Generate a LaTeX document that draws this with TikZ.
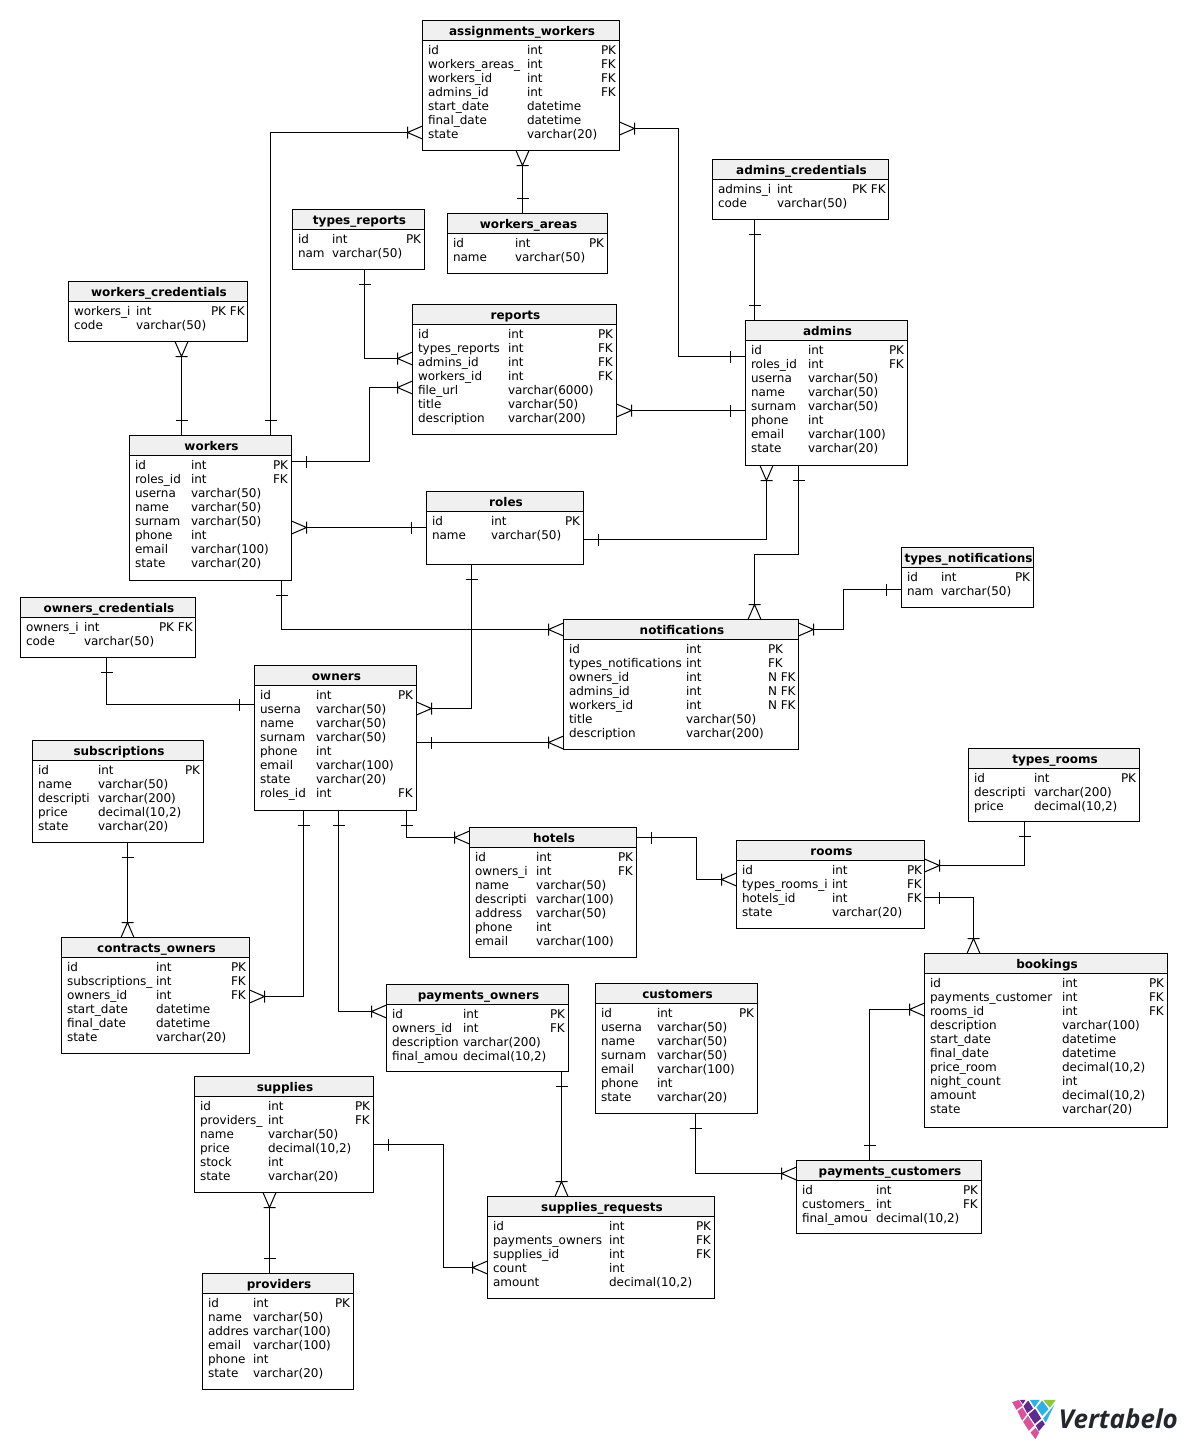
\documentclass[tikz,border=0pt]{standalone}
\usepackage{fontspec}
\setmainfont{DejaVu Sans}
\newfontfamily\logofont{Open Sans}
\catcode`\_=12
\usetikzlibrary{arrows.meta}
\definecolor{headgray}{HTML}{F0F0F0}
\definecolor{logopink}{HTML}{D9539B}
\definecolor{logopurple}{HTML}{5F2B8F}
\definecolor{logoblue}{HTML}{2DB0E6}
\definecolor{logogreen}{HTML}{8DC63F}
\definecolor{logotext}{HTML}{23262B}
\tikzstyle{erbody}=[draw=black,line width=1pt,inner sep=0pt,outer sep=0pt,anchor=north west]
\tikzstyle{erhead}=[erbody,fill=headgray,minimum height=20pt,font=\fontsize{12}{14}\selectfont\bfseries,text height=11pt,text depth=2pt]
\tikzstyle{ercell}=[inner sep=0pt,outer sep=0pt,anchor=base west,font=\fontsize{12}{14}\selectfont]
\tikzstyle{rel}=[draw=black,line width=1pt]
\pgfdeclarearrow{
  name=crow,
  parameters={\the\pgflinewidth},
  setup code={\pgfarrowssettipend{0pt}\pgfarrowssetlineend{-15pt}\pgfarrowssetbackend{-15pt}\pgfarrowssetvisualbackend{-15pt}},
  drawing code={
    \pgfsetdash{}{0pt}
    \pgfpathmoveto{\pgfqpoint{0pt}{6.5pt}}
    \pgfpathlineto{\pgfqpoint{-15pt}{0pt}}
    \pgfpathlineto{\pgfqpoint{0pt}{-6.5pt}}
    \pgfpathmoveto{\pgfqpoint{-15pt}{6pt}}
    \pgfpathlineto{\pgfqpoint{-15pt}{-6pt}}
    \pgfusepathqstroke
  }
}
\pgfdeclarearrow{
  name=one,
  parameters={\the\pgflinewidth},
  setup code={\pgfarrowssettipend{0pt}\pgfarrowssetlineend{0pt}\pgfarrowssetbackend{-15pt}\pgfarrowssetvisualbackend{0pt}},
  drawing code={
    \pgfsetdash{}{0pt}
    \pgfpathmoveto{\pgfqpoint{-15pt}{6pt}}
    \pgfpathlineto{\pgfqpoint{-15pt}{-6pt}}
    \pgfusepathqstroke
  }
}
\newcount\rowno
\newcommand{\rw}[3][]{%
  \pgfmathsetmacro\rowy{\ertop+34+14*\rowno}%
  \node[ercell] (\ername-\the\rowno-name) at (\erleft+5.5,\rowy) {#2};
  \node[ercell] (\ername-\the\rowno-type) at (\ertype+0.5,\rowy) {#3};
  \def\rowkey{#1}%
  \ifx\rowkey\empty\else
    \node[ercell] (\ername-\the\rowno-key) at (\erkey+0.5,\rowy) {#1};
  \fi
  \global\advance\rowno by 1\relax
}
\newcommand{\ertable}[8]{%
  \def\ername{#1}\def\erleft{#2}\def\ertop{#3}\def\ertype{#6}\def\erkey{#7}%
  \global\rowno=0\relax
  \node[erbody,minimum width={(#4-#2+1)*1pt},minimum height={(#5-#3+1)*1pt}] (#1) at (#2,#3) {};
  \node[erhead,minimum width={(#4-#2+1)*1pt}] (#1-head) at (#2,#3) {\hspace{2pt}#1};
  #8
}
\begin{document}
\begin{tikzpicture}[x=1pt,y=-1pt]
\useasboundingbox (0.5,0.5) rectangle (1187.5,1449.5);

\ertable{assignments_workers}{423}{21}{619}{150}{527}{601}{
  \rw[PK]{id}{int}
  \rw[FK]{workers_areas_}{int}
  \rw[FK]{workers_id}{int}
  \rw[FK]{admins_id}{int}
  \rw{start_date}{datetime}
  \rw{final_date}{datetime}
  \rw{state}{varchar(20)}
}
\ertable{admins_credentials}{713}{160}{888}{219}{777}{852}{
  \rw[PK FK]{admins_i}{int}
  \rw{code}{varchar(50)}
}
\ertable{types_reports}{293}{210}{424}{269}{332}{406}{
  \rw[PK]{id}{int}
  \rw{nam}{varchar(50)}
}
\ertable{workers_areas}{448}{214}{607}{273}{515}{589}{
  \rw[PK]{id}{int}
  \rw{name}{varchar(50)}
}
\ertable{workers_credentials}{69}{282}{247}{341}{136}{211}{
  \rw[PK FK]{workers_i}{int}
  \rw{code}{varchar(50)}
}
\ertable{reports}{413}{305}{616}{434}{508}{598}{
  \rw[PK]{id}{int}
  \rw[FK]{types_reports}{int}
  \rw[FK]{admins_id}{int}
  \rw[FK]{workers_id}{int}
  \rw{file_url}{varchar(6000)}
  \rw{title}{varchar(50)}
  \rw{description}{varchar(200)}
}
\ertable{admins}{746}{321}{907}{465}{808}{889}{
  \rw[PK]{id}{int}
  \rw[FK]{roles_id}{int}
  \rw{userna}{varchar(50)}
  \rw{name}{varchar(50)}
  \rw{surnam}{varchar(50)}
  \rw{phone}{int}
  \rw{email}{varchar(100)}
  \rw{state}{varchar(20)}
}
\ertable{workers}{130}{436}{291}{580}{191}{273}{
  \rw[PK]{id}{int}
  \rw[FK]{roles_id}{int}
  \rw{userna}{varchar(50)}
  \rw{name}{varchar(50)}
  \rw{surnam}{varchar(50)}
  \rw{phone}{int}
  \rw{email}{varchar(100)}
  \rw{state}{varchar(20)}
}
\ertable{roles}{427}{492}{583}{564}{491}{565}{
  \rw[PK]{id}{int}
  \rw{name}{varchar(50)}
}
\ertable{types_notifications}{902}{548}{1033}{607}{941}{1015}{
  \rw[PK]{id}{int}
  \rw{nam}{varchar(50)}
}
\ertable{owners_credentials}{21}{598}{195}{657}{84}{159}{
  \rw[PK FK]{owners_i}{int}
  \rw{code}{varchar(50)}
}
\ertable{notifications}{564}{620}{798}{749}{686}{768}{
  \rw[PK]{id}{int}
  \rw[FK]{types_notifications}{int}
  \rw[N FK]{owners_id}{int}
  \rw[N FK]{admins_id}{int}
  \rw[N FK]{workers_id}{int}
  \rw{title}{varchar(50)}
  \rw{description}{varchar(200)}
}
\ertable{owners}{255}{666}{416}{810}{316}{398}{
  \rw[PK]{id}{int}
  \rw{userna}{varchar(50)}
  \rw{name}{varchar(50)}
  \rw{surnam}{varchar(50)}
  \rw{phone}{int}
  \rw{email}{varchar(100)}
  \rw{state}{varchar(20)}
  \rw[FK]{roles_id}{int}
}
\ertable{subscriptions}{33}{741}{203}{842}{98}{185}{
  \rw[PK]{id}{int}
  \rw{name}{varchar(50)}
  \rw{descripti}{varchar(200)}
  \rw{price}{decimal(10,2)}
  \rw{state}{varchar(20)}
}
\ertable{types_rooms}{969}{749}{1139}{821}{1034}{1121}{
  \rw[PK]{id}{int}
  \rw{descripti}{varchar(200)}
  \rw{price}{decimal(10,2)}
}
\ertable{hotels}{470}{828}{636}{957}{536}{618}{
  \rw[PK]{id}{int}
  \rw[FK]{owners_i}{int}
  \rw{name}{varchar(50)}
  \rw{descripti}{varchar(100)}
  \rw{address}{varchar(50)}
  \rw{phone}{int}
  \rw{email}{varchar(100)}
}
\ertable{rooms}{737}{841}{924}{928}{832}{907}{
  \rw[PK]{id}{int}
  \rw[FK]{types_rooms_i}{int}
  \rw[FK]{hotels_id}{int}
  \rw{state}{varchar(20)}
}
\ertable{contracts_owners}{62}{938}{249}{1053}{156}{231}{
  \rw[PK]{id}{int}
  \rw[FK]{subscriptions_}{int}
  \rw[FK]{owners_id}{int}
  \rw{start_date}{datetime}
  \rw{final_date}{datetime}
  \rw{state}{varchar(20)}
}
\ertable{bookings}{925}{954}{1167}{1127}{1062}{1149}{
  \rw[PK]{id}{int}
  \rw[FK]{payments_customer}{int}
  \rw[FK]{rooms_id}{int}
  \rw{description}{varchar(100)}
  \rw{start_date}{datetime}
  \rw{final_date}{datetime}
  \rw{price_room}{decimal(10,2)}
  \rw{night_count}{int}
  \rw{amount}{decimal(10,2)}
  \rw{state}{varchar(20)}
}
\ertable{payments_owners}{387}{985}{568}{1071}{463}{550}{
  \rw[PK]{id}{int}
  \rw[FK]{owners_id}{int}
  \rw{description}{varchar(200)}
  \rw{final_amou}{decimal(10,2)}
}
\ertable{customers}{596}{984}{757}{1113}{657}{739}{
  \rw[PK]{id}{int}
  \rw{userna}{varchar(50)}
  \rw{name}{varchar(50)}
  \rw{surnam}{varchar(50)}
  \rw{email}{varchar(100)}
  \rw{phone}{int}
  \rw{state}{varchar(20)}
}
\ertable{supplies}{195}{1077}{373}{1192}{268}{355}{
  \rw[PK]{id}{int}
  \rw[FK]{providers_}{int}
  \rw{name}{varchar(50)}
  \rw{price}{decimal(10,2)}
  \rw{stock}{int}
  \rw{state}{varchar(20)}
}
\ertable{payments_customers}{797}{1161}{981}{1233}{876}{963}{
  \rw[PK]{id}{int}
  \rw[FK]{customers_}{int}
  \rw{final_amou}{decimal(10,2)}
}
\ertable{supplies_requests}{488}{1197}{714}{1298}{609}{696}{
  \rw[PK]{id}{int}
  \rw[FK]{payments_owners}{int}
  \rw[FK]{supplies_id}{int}
  \rw{count}{int}
  \rw{amount}{decimal(10,2)}
}
\ertable{providers}{203}{1274}{353}{1389}{253}{335}{
  \rw[PK]{id}{int}
  \rw{name}{varchar(50)}
  \rw{addres}{varchar(100)}
  \rw{email}{varchar(100)}
  \rw{phone}{int}
  \rw{state}{varchar(20)}
}

\begin{scope}[shift={(1,1)}]
\draw[rel,one-crow] (270,0 |- workers.north) |- (assignments_workers.west |- 0,132);
\draw[rel,crow-one] (assignments_workers.east |- 0,128) -| (678,356) -- (admins.west |- 0,356);
\draw[rel,crow-one] (522,0 |- assignments_workers.south) -- (522,0 |- workers_areas.north);
\draw[rel,one-one] (754,0 |- admins_credentials.south) -- (754,0 |- admins.north);
\draw[rel,one-crow] (364,0 |- types_reports.south) |- (reports.west |- 0,358);
\draw[rel,crow-one] (181,0 |- workers_credentials.south) -- (181,0 |- workers.north);
\draw[rel,one-crow] (workers.east |- 0,461) -| (369,387) -- (reports.west |- 0,387);
\draw[rel,crow-one] (reports.east |- 0,410) -- (admins.west |- 0,410);
\draw[rel,crow-one] (workers.east |- 0,527) -- (roles.west |- 0,527);
\draw[rel,one-crow] (roles.east |- 0,539) -| (766,0 |- admins.south);
\draw[rel,one-crow] (798,0 |- admins.south) |- (754,554) -- (754,0 |- notifications.north);
\draw[rel,one-crow] (types_notifications.west |- 0,589) -| (843,629) -- (notifications.east |- 0,629);
\draw[rel,one-crow] (281,0 |- workers.south) |- (notifications.west |- 0,629);
\draw[rel,one-crow] (471,0 |- roles.south) |- (owners.east |- 0,708);
\draw[rel,one-one] (106,0 |- owners_credentials.south) |- (owners.west |- 0,704);
\draw[rel,one-crow] (owners.east |- 0,742) -- (notifications.west |- 0,742);
\draw[rel,one-crow] (127,0 |- subscriptions.south) -- (127,0 |- contracts_owners.north);
\draw[rel,one-crow] (303,0 |- owners.south) |- (contracts_owners.east |- 0,996);
\draw[rel,one-crow] (338,0 |- owners.south) |- (payments_owners.west |- 0,1011);
\draw[rel,one-crow] (406,0 |- owners.south) |- (hotels.west |- 0,837);
\draw[rel,one-crow] (hotels.east |- 0,837) -| (696,879) -- (rooms.west |- 0,879);
\draw[rel,one-crow] (1024,0 |- types_rooms.south) |- (rooms.east |- 0,865);
\draw[rel,one-crow] (rooms.east |- 0,897) -| (973,0 |- bookings.north);
\draw[rel,one-crow] (869,0 |- payments_customers.north) |- (bookings.west |- 0,1009);
\draw[rel,one-crow] (695,0 |- customers.south) |- (payments_customers.west |- 0,1173);
\draw[rel,one-crow] (561,0 |- payments_owners.south) -- (561,0 |- supplies_requests.north);
\draw[rel,one-crow] (supplies.east |- 0,1144) -| (443,1267) -- (supplies_requests.west |- 0,1267);
\draw[rel,crow-one] (269,0 |- supplies.south) -- (269,0 |- providers.north);
\end{scope}

\begin{scope}[shift={(1001,1391)},x=0.3333pt,y=-0.3333pt]
\fill[logopink] (35,35) -- (55,28) -- (66,45) -- (48,58) -- cycle;
\fill[logopurple] (58,28) -- (75,28) -- (67,41) -- cycle;
\fill[logopurple] (83,30) -- (98,54) -- (80,68) -- (69,47) -- cycle;
\fill[logoblue] (88,28) -- (118,28) -- (102,50) -- cycle;
\fill[logopink] (51,62) -- (66,51) -- (79,72) -- (65,90) -- cycle;
\fill[logopurple] (84,72) -- (104,55) -- (122,84) -- (103,100) -- cycle;
\fill[logoblue] (125,30) -- (144,56) -- (125,76) -- (108,51) -- cycle;
\fill[logogreen] (128,28) -- (166,28) -- (148,52) -- cycle;
\fill[logopink] (68,94) -- (82,76) -- (101,105) -- (85,121) -- cycle;
\fill[logopurple] (106,105) -- (125,89) -- (133,101) -- (115,122) -- cycle;
\fill[logoblue] (128,84) -- (162,42) -- (136,96) -- cycle;
\fill[logopink] (90,126) -- (105,112) -- (116,126) -- (105,146) -- cycle;
\end{scope}
\node[inner sep=0pt,anchor=base west,text=logotext,font=\fontsize{26}{26}\logofont\bfseries\itshape] (logoname) at (1059,1429) {Vertabelo};
\end{tikzpicture}
\end{document}
